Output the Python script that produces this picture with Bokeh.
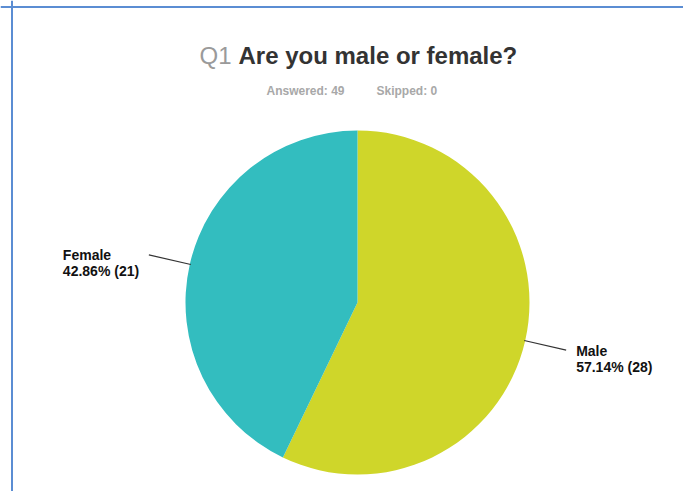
import math
from bokeh.plotting import figure
from bokeh.models import Range1d, Span
from bokeh.core.properties import value
from bokeh.embed import file_html
from bokeh.resources import INLINE

# ---- data ----
labels = ["Male", "Female"]
counts = [28, 21]
percents = [57.14, 42.86]
colors = ["#CFD62A", "#33BDBF"]
question_no = "Q1"
question = "Are you male or female?"
answered = 49
skipped = 0

FONT = value("Liberation Sans")

W, H = 683, 491

# pixel coordinate system (x right, data y = H - pixel y)
def Y(py):
    return H - py

p = figure(width=W, height=H, x_range=Range1d(0, W), y_range=Range1d(0, H),
           output_backend="svg", toolbar_location=None, min_border=0,
           x_axis_location=None, y_axis_location=None)
p.grid.visible = False
p.outline_line_color = None
p.background_fill_color = "white"
p.border_fill_color = "white"

# frame border (left & top)
p.add_layout(Span(location=11.5, dimension="height", line_color="#5B8DD3", line_width=2))
p.add_layout(Span(location=Y(6.5), dimension="width", line_color="#5B8DD3", line_width=2))

# title
p.text(x=[231], y=[Y(55)], text=[question_no], text_font=FONT, text_font_size="24px",
       text_color="#9a9a9a", text_align="right", text_baseline="alphabetic")
p.text(x=[238], y=[Y(55)], text=[question], text_font=FONT, text_font_size="24px",
       text_font_style="bold", text_color="#333333", text_align="left", text_baseline="alphabetic")
p.text(x=[266, 376], y=[Y(90), Y(90)], text=[f"Answered: {answered}", f"Skipped: {skipped}"],
       text_font=FONT, text_font_size="12px", text_font_style="bold", text_color="#a8a8a8",
       text_align="left", text_baseline="alphabetic")

# pie
cx, cy, r = 357, Y(302), 172
start = math.pi / 2
for lab, cnt, pct, col in zip(labels, counts, percents, colors):
    end = start - 2 * math.pi * pct / 100.0
    p.wedge(x=[cx], y=[cy], radius=r, start_angle=[start], end_angle=[end],
            direction="clock", fill_color=col, line_color=None)
    mid = (start + end) / 2
    c, s = math.cos(mid), math.sin(mid)
    x0, y0 = cx + (r - 1) * c, cy + (r - 1) * s
    x1, y1 = cx + (r + 42) * c, cy + (r + 42) * s
    p.line(x=[x0, x1], y=[y0, y1], line_color="#333333", line_width=1.2)
    lx = x1 + 10 if c > 0 else x1 - 86
    ly = y1 - 0.5
    p.text(x=[lx, lx], y=[ly, ly - 16], text=[lab, f"{pct:.2f}% ({cnt})"],
           text_font=FONT, text_font_size="14px", text_font_style="bold",
           text_color="#111111", text_align="left", text_baseline="middle")
    start = end

open("out.html", "w").write(file_html(p, INLINE))
